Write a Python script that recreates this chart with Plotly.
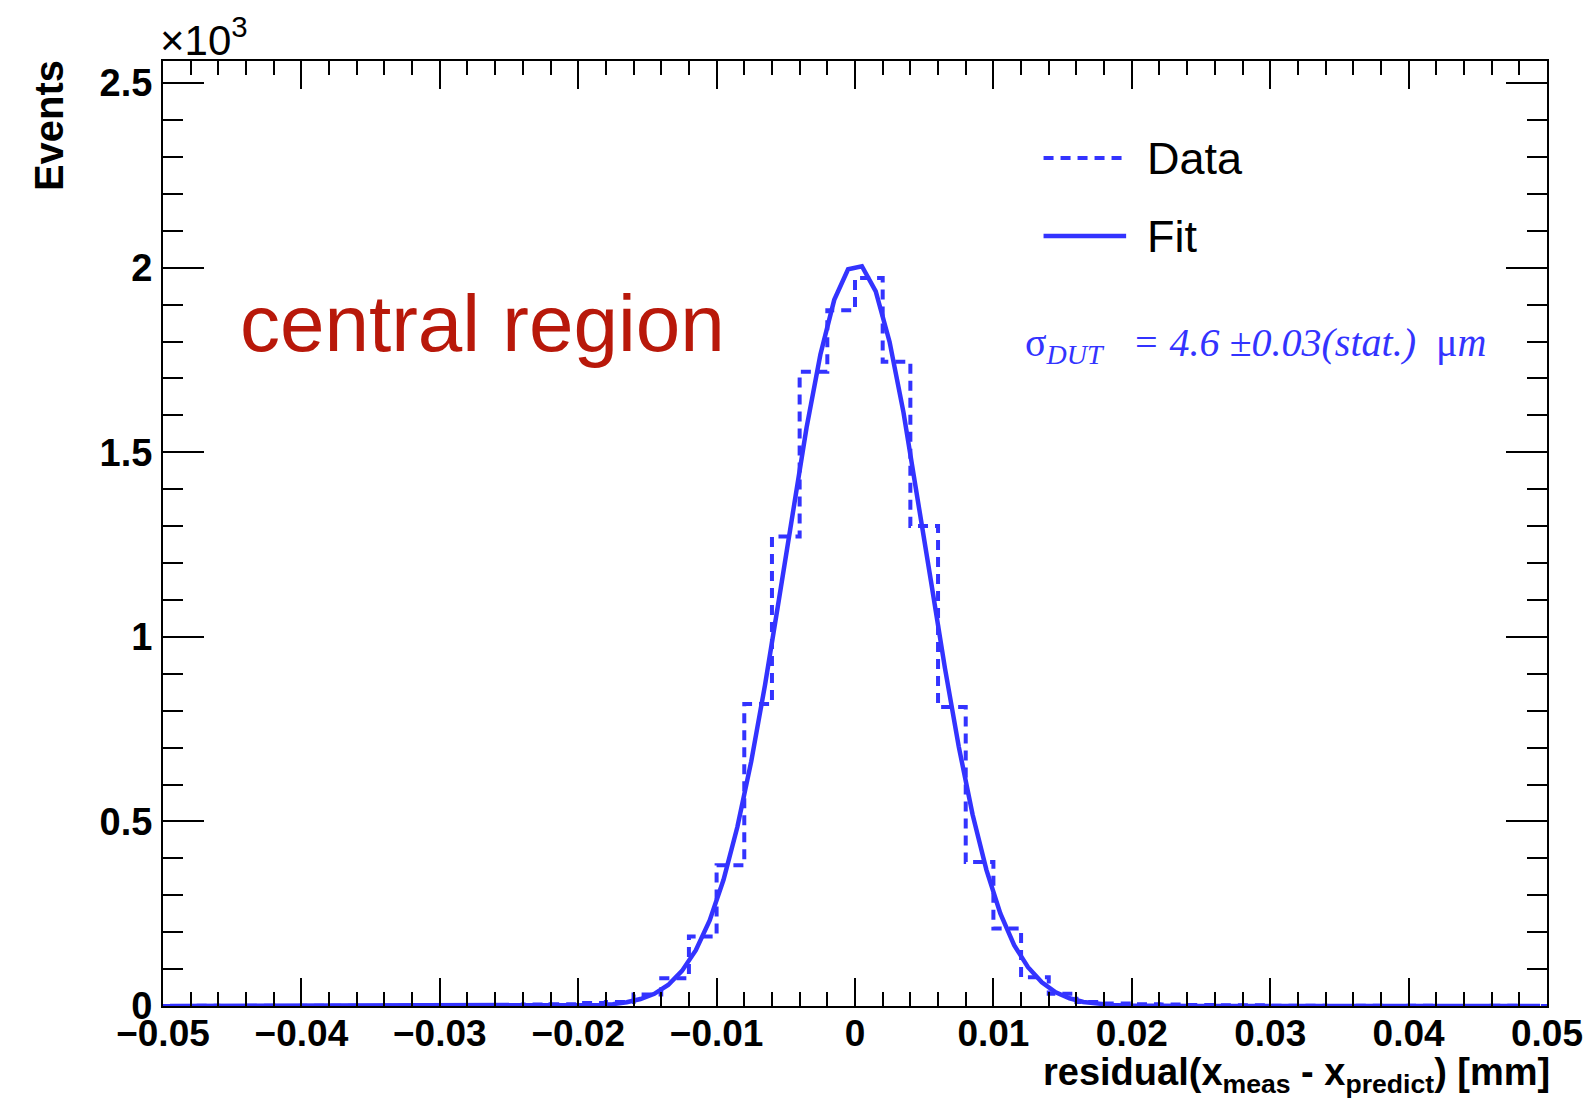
import plotly.graph_objects as go

# ---------------- data ----------------
# histogram: 50 bins of width 0.002 mm from -0.05 to 0.05
bin_edges_lo = [round(-0.05 + 0.002 * i, 3) for i in range(50)]
bin_width = 0.002
data_counts = [
    0, 1, 0, 1, 0, 1, 1, 0, 1, 2,          # -0.050 .. -0.032
    1, 2, 3, 4, 5, 8, 11, 31, 75, 188,     # -0.030 .. -0.012
    381, 818, 1272, 1718, 1885, 1972, 1745, 1300, 810, 390,  # -0.010 .. 0.008
    210, 78, 33, 11, 7, 5, 4, 3, 2, 2,     # 0.010 .. 0.028
    1, 1, 0, 1, 0, 1, 0, 0, 1, 0,          # 0.030 .. 0.048
]

fit_x = [round(-0.0495 + 0.001 * k, 4) for k in range(100)]
fit_y = [
    0, 0, 0, 0, 0, 0, 0, 0, 0, 0,                          # -0.0495 .. -0.0405
    0, 0, 0, 0, 0, 0, 0, 0, 0, 0,                          # -0.0395 .. -0.0305
    0, 0, 0, 0, 0, 0, 0, 0, 0.3, 0.6,                      # -0.0295 .. -0.0205
    1.3, 3, 5, 10, 19, 33, 57, 95, 151, 232,               # -0.0195 .. -0.0105
    342, 485, 662, 870, 1100, 1338, 1567, 1765, 1913, 1996,  # -0.0095 .. -0.0005
    2004, 1936, 1799, 1609, 1386, 1148, 915, 702, 518, 368,  # 0.0005 .. 0.0095
    251, 165, 105, 64, 37, 21, 11, 6, 3, 1.4,              # 0.0105 .. 0.0195
    0.6, 0.3, 0, 0, 0, 0, 0, 0, 0, 0,                      # 0.0205 .. 0.0295
    0, 0, 0, 0, 0, 0, 0, 0, 0, 0,                          # 0.0305 .. 0.0395
    0, 0, 0, 0, 0, 0, 0, 0, 0, 0,                          # 0.0405 .. 0.0495
]

y_tick_vals = [0, 500, 1000, 1500, 2000, 2500]
y_tick_text = ["0", "0.5", "1", "1.5", "2", "2.5"]
x_tick_vals = [-0.05, -0.04, -0.03, -0.02, -0.01, 0, 0.01, 0.02, 0.03, 0.04, 0.05]
x_tick_text = ["\u22120.05", "\u22120.04", "\u22120.03", "\u22120.02", "\u22120.01",
               "0", "0.01", "0.02", "0.03", "0.04", "0.05"]

legend_labels = ["Data", "Fit"]
label_text = "central region"

# ---------------- styling ----------------
BLUE = "rgb(51,51,255)"
RED = "rgb(184,24,10)"
SANS = "Liberation Sans, Arial, Helvetica, sans-serif"
SERIF = "Liberation Serif, Times New Roman, serif"

W, H = 1595, 1101
L, R, T, B = 163, 41, 61, 95
PW, PH = W - L - R, H - T - B


def px(xp):
    return (xp - L) / PW


def py(yp):
    return (H - B - yp) / PH


# step outline for histogram
step_x = bin_edges_lo + [bin_edges_lo[-1] + bin_width]
step_y = data_counts + [data_counts[-1]]

fig = go.Figure()
fig.add_trace(go.Scatter(
    x=step_x, y=step_y, mode="lines", line_shape="hv",
    line=dict(color=BLUE, width=4, dash="10px,7px"),
    name=legend_labels[0], showlegend=False, hoverinfo="skip",
))
fig.add_trace(go.Scatter(
    x=fit_x, y=fit_y, mode="lines",
    line=dict(color=BLUE, width=4.5),
    name=legend_labels[1], showlegend=False, hoverinfo="skip",
))

axis_common = dict(
    showline=True, linewidth=2, linecolor="black", mirror="ticks",
    ticks="inside", tickwidth=2, tickcolor="black",
    showgrid=False, zeroline=False,
)

fig.update_xaxes(
    range=[-0.05, 0.05], tickvals=x_tick_vals, ticktext=x_tick_text,
    ticklen=28, ticklabelstandoff=-6,
    tickfont=dict(family=SANS, size=37, color="black", weight="bold"),
    minor=dict(dtick=0.002, ticklen=14, tickwidth=2, tickcolor="black", ticks="inside", showgrid=False),
    **axis_common,
)
fig.update_yaxes(
    range=[0, 2560], tickvals=y_tick_vals, ticktext=y_tick_text,
    ticklen=41, ticklabelstandoff=1,
    tickfont=dict(family=SANS, size=38, color="black", weight="bold"),
    minor=dict(dtick=100, ticklen=20, tickwidth=2, tickcolor="black", ticks="inside", showgrid=False),
    **axis_common,
)

annotations = [
    # x10^3
    dict(x=px(158), y=py(66), xref="paper", yref="paper", xanchor="left", yanchor="bottom",
         text="\u00d710<sup>3</sup>", showarrow=False,
         font=dict(family=SANS, size=42, color="black")),
    # y title
    dict(x=px(48), y=py(58), xref="paper", yref="paper", xanchor="center", yanchor="top",
         text="Events", textangle=-90, showarrow=False,
         font=dict(family=SANS, size=40, color="black", weight="bold")),
    # x title
    dict(x=1.0, y=py(1049), xref="paper", yref="paper", xanchor="right", yanchor="top",
         xshift=5,
         text="residual(x<sub>meas</sub> - x<sub>predict</sub>) [mm]", showarrow=False,
         font=dict(family=SANS, size=38, color="black", weight="bold")),
    # legend texts
    dict(x=px(1150), y=py(158), xref="paper", yref="paper", xanchor="left", yanchor="middle",
         text=legend_labels[0], showarrow=False, font=dict(family=SANS, size=45, color="black")),
    dict(x=px(1150), y=py(236), xref="paper", yref="paper", xanchor="left", yanchor="middle",
         text=legend_labels[1], showarrow=False, font=dict(family=SANS, size=45, color="black")),
    # central region
    dict(x=px(238), y=py(323), xref="paper", yref="paper", xanchor="left", yanchor="middle",
         text=label_text, showarrow=False, font=dict(family=SANS, size=80, color=RED)),
    # sigma text
    dict(x=px(1027), y=py(345), xref="paper", yref="paper", xanchor="left", yanchor="middle",
         text="\u03c3<sub><i>DUT</i></sub>   <i>= 4.6 \u00b10.03(stat.)</i>  \u03bc<i>m</i>",
         showarrow=False, font=dict(family=SERIF, size=40, color=BLUE)),
]

shapes = [
    dict(type="line", xref="paper", yref="paper", x0=px(1048), x1=px(1131), y0=py(158), y1=py(158),
         line=dict(color=BLUE, width=4, dash="10px,7px")),
    dict(type="line", xref="paper", yref="paper", x0=px(1048), x1=px(1131), y0=py(236), y1=py(236),
         line=dict(color=BLUE, width=4.5)),
]

fig.update_layout(
    width=W, height=H,
    margin=dict(l=L, r=R, t=T, b=B, pad=0),
    paper_bgcolor="white", plot_bgcolor="white",
    showlegend=False,
    annotations=annotations, shapes=shapes,
)

fig.write_html("out.html")
